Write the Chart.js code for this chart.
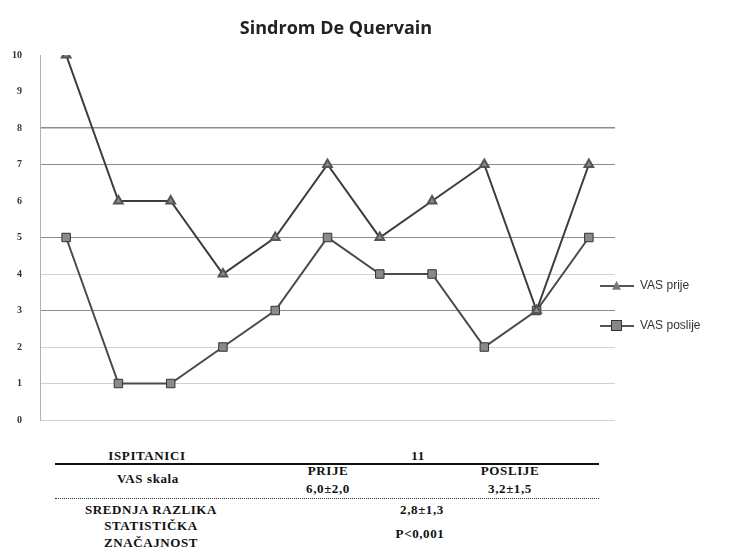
<!DOCTYPE html>
<html>
<head>
<meta charset="utf-8">
<script src="https://cdn.jsdelivr.net/npm/chart.js@4/dist/chart.umd.min.js"></script>
<style>
  html, body { margin: 0; padding: 0; background: #fff; }
  #wrap { position: relative; width: 747px; height: 552px; overflow: hidden; }
  #chart-box { position: absolute; left: 0; top: 0; width: 747px; height: 444px; }
  .title { position: absolute; top: 15px; left: 0; width: 672px; text-align: center;
           font: bold 18px "Open Sans", sans-serif; color: #222; }
  .legend { position: absolute; left: 600px; font: 12px "Liberation Sans", sans-serif; color: #333; line-height: 14px; }
  .legend .ln { display: inline-block; width: 34px; height: 2px; background: #555; vertical-align: middle; position: relative; margin-right: 6px; }
  .legend .mk { position: absolute; left: 12px; top: -4px; width: 9px; height: 9px; }
  .t { position: absolute; font: bold 13px "Liberation Serif", serif; letter-spacing: 0.6px; color: #111; text-align: center; white-space: nowrap; line-height: 14px; }
  .rule { position: absolute; left: 55px; width: 544px; }
</style>
</head>
<body>
<div id="wrap">
  <div id="chart-box"><canvas id="chart-vas"></canvas></div>
  <div class="title">Sindrom De Quervain</div>

  <div class="legend" style="top:278px"><span class="ln"><span class="mk" style="background:#777;clip-path:polygon(50% 0,100% 100%,0 100%)"></span></span>VAS prije</div>
  <div class="legend" style="top:318px"><span class="ln"><span class="mk" style="background:#888;border:1px solid #333;left:11px;top:-5px"></span></span>VAS poslije</div>

  <!-- tablica ispod grafa -->
  <div class="t" style="left:77px;top:449px;width:140px">ISPITANICI</div>
  <div class="t" style="left:388px;top:449px;width:60px">11</div>
  <div class="rule" style="top:463px;border-top:2px solid #111"></div>
  <div class="t" style="left:88px;top:472px;width:120px">VAS skala</div>
  <div class="t" style="left:293px;top:464px;width:70px">PRIJE</div>
  <div class="t" style="left:293px;top:482px;width:70px">6,0±2,0</div>
  <div class="t" style="left:475px;top:464px;width:70px">POSLIJE</div>
  <div class="t" style="left:475px;top:482px;width:70px">3,2±1,5</div>
  <div class="rule" style="top:498px;border-top:1px dotted #333"></div>
  <div class="t" style="left:61px;top:503px;width:180px">SREDNJA RAZLIKA</div>
  <div class="t" style="left:387px;top:503px;width:70px">2,8±1,3</div>
  <div class="t" style="left:61px;top:519px;width:180px">STATISTIČKA</div>
  <div class="t" style="left:61px;top:536px;width:180px">ZNAČAJNOST</div>
  <div class="t" style="left:385px;top:527px;width:70px">P&lt;0,001</div>
</div>
<script>
/* ── Podaci ── */
const ispitanici = ['1','2','3','4','5','6','7','8','9','10','11'];
const vasPrije   = [10, 6, 6, 4, 5, 7, 5, 6, 7, 3, 7];
const vasPoslije = [5, 1, 1, 2, 3, 5, 4, 4, 2, 3, 5];
const yTicks     = [0, 1, 2, 3, 4, 5, 6, 7, 8, 9, 10];

// koje linije mreže su jače vidljive
const strongGrid = [3, 5, 7, 8];
const faintGrid  = [0, 1, 2, 4];

const ctx = document.getElementById('chart-vas');
new Chart(ctx, {
  type: 'line',
  data: {
    labels: ispitanici,
    datasets: [
      {
        label: 'VAS prije',
        data: vasPrije,
        borderColor: '#3c3c3c',
        backgroundColor: '#777',
        borderWidth: 2,
        pointStyle: 'triangle',
        pointRadius: 5,
        pointBorderColor: '#555',
        pointBackgroundColor: '#888',
        tension: 0,
      },
      {
        label: 'VAS poslije',
        data: vasPoslije,
        borderColor: '#4a4a4a',
        backgroundColor: '#888',
        borderWidth: 2,
        pointStyle: 'rect',
        pointRadius: 6,
        pointBorderColor: '#333',
        pointBackgroundColor: '#8a8a8a',
        pointBorderWidth: 1,
        tension: 0,
      }
    ]
  },
  options: {
    responsive: true, maintainAspectRatio: false, animation: false,
    layout: { padding: { top: 55, bottom: 16, left: 4, right: 132 } },
    plugins: { legend: { display: false }, title: { display: false }, tooltip: { enabled: false } },
    scales: {
      x: { display: false, offset: true },
      y: {
        min: 0, max: 10,
        afterFit: s => { s.width = 36; },
        afterBuildTicks: s => { s.ticks = yTicks.map(v => ({ value: v })); },
        ticks: { color: '#333', font: { family: 'Liberation Serif', size: 10, weight: 'bold' }, padding: 18 },
        border: { display: true, color: '#b0b0b0' },
        grid: {
          drawTicks: false,
          color: c => strongGrid.includes(c.tick.value) ? '#8c8c8c' : (faintGrid.includes(c.tick.value) ? '#d0d0d0' : 'rgba(0,0,0,0)'),
          lineWidth: c => c.tick.value === 8 ? 1.5 : 1,
        }
      }
    }
  }
});
</script>
</body>
</html>
